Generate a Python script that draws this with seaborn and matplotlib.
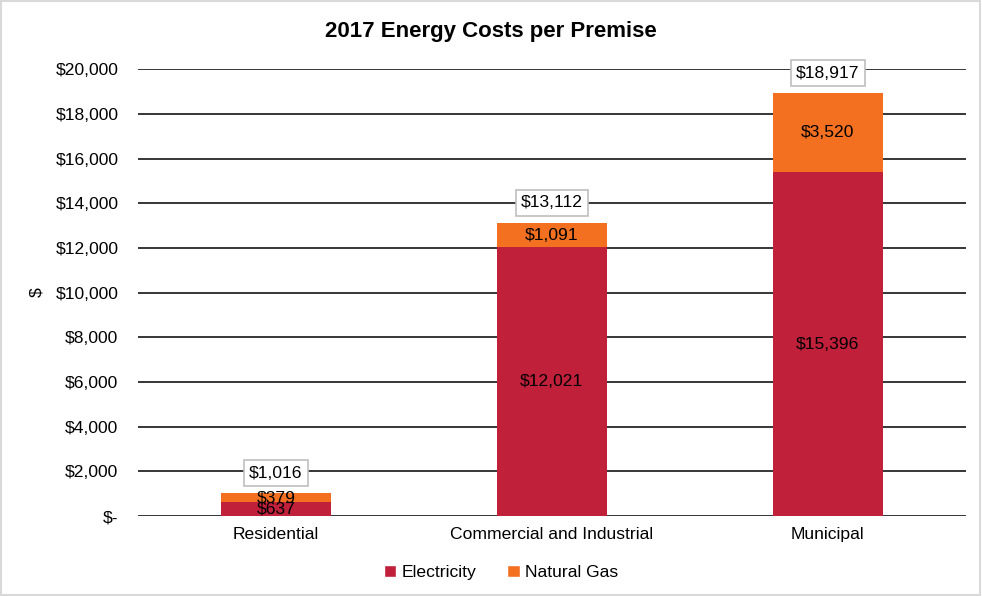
import numpy as np
import pandas as pd
import matplotlib
matplotlib.use("Agg")
import matplotlib.pyplot as plt
import seaborn as sns
from matplotlib.patches import Patch, Rectangle

categories = ["Residential", "Commercial and Industrial", "Municipal"]
electricity = [637, 12021, 15396]
natural_gas = [379, 1091, 3520]
totals = [1016, 13112, 18917]

RED = "#C0203A"
ORANGE = "#F37021"
FS = 12.6

sns.set_theme(style="white")
plt.rcParams["font.family"] = ["Liberation Sans", "DejaVu Sans"]
plt.rcParams["text.color"] = "black"
plt.rcParams["xtick.color"] = "black"
plt.rcParams["ytick.color"] = "black"
plt.rcParams["axes.labelcolor"] = "black"

df = pd.DataFrame({"category": categories, "electricity": electricity,
                   "gas": natural_gas, "total": totals})

fig = plt.figure(figsize=(9.82, 5.96), dpi=100)
ax = fig.add_axes([0.1405, 0.1342, 0.843, 0.7498])

# gas stacked on top of electricity
sns.barplot(data=df, x="category", y="gas", bottom=df["electricity"], color=ORANGE,
            width=0.4, saturation=1, linewidth=0, ax=ax, zorder=3)
sns.barplot(data=df, x="category", y="electricity", color=RED,
            width=0.4, saturation=1, linewidth=0, ax=ax, zorder=3)

ax.set_ylim(0, 20000)
ax.set_xlim(-0.5, 2.5)
ticks = np.arange(0, 20001, 2000)
ax.set_yticks(ticks)
ax.set_yticklabels(["$-"] + [f"${t:,}" for t in ticks[1:]], fontsize=FS)
ax.tick_params(axis="x", labelsize=FS, length=0, pad=8)
ax.tick_params(axis="y", length=0, pad=14)
ax.yaxis.grid(True, color="black", linewidth=1.1, zorder=0)
ax.set_axisbelow(True)
for s in ax.spines.values():
    s.set_visible(False)
ax.set_xlabel("")
ax.set_ylabel("$", fontsize=FS, labelpad=8)

for i in range(len(categories)):
    ax.text(i, electricity[i] / 2, f"${electricity[i]:,}", ha="center", va="center",
            fontsize=FS, zorder=5)
    ax.text(i, electricity[i] + natural_gas[i] / 2, f"${natural_gas[i]:,}", ha="center",
            va="center", fontsize=FS, zorder=5)
    ax.text(i, totals[i] + 900, f"${totals[i]:,}", ha="center", va="center",
            fontsize=FS, zorder=6,
            bbox=dict(boxstyle="square,pad=0.3", facecolor="white", edgecolor="#BFBFBF",
                      linewidth=1.2))

fig.suptitle("2017 Energy Costs per Premise", y=0.965, fontsize=16, fontweight="bold")

handles = [Patch(facecolor=RED, label="Electricity"), Patch(facecolor=ORANGE, label="Natural Gas")]
fig.legend(handles=handles, loc="center", bbox_to_anchor=(0.51, 0.04), ncol=2, frameon=False,
           fontsize=FS, handlelength=0.7, handleheight=0.7, handletextpad=0.3, columnspacing=1.8)

fig.patches.append(Rectangle((0.001, 0.002), 0.997, 0.996, transform=fig.transFigure,
                             fill=False, edgecolor="#D9D9D9", linewidth=1.5))

fig.savefig("out.png", dpi=100)
